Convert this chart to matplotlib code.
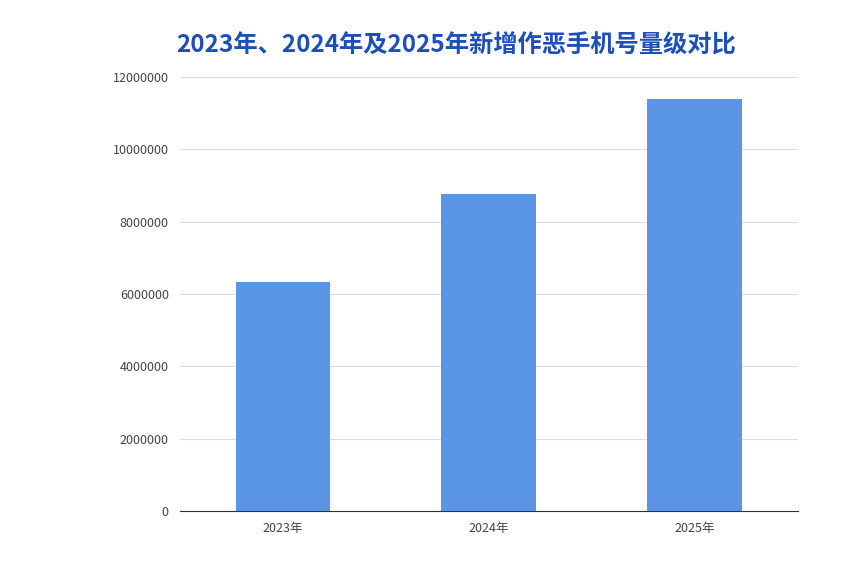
import matplotlib
matplotlib.use("Agg")
import matplotlib.pyplot as plt

plt.rcParams['font.family'] = ['Noto Sans CJK SC', 'DejaVu Sans']

categories = ["2023年", "2024年", "2025年"]
values = [6330000, 8760000, 11390000]
yticks = [0, 2000000, 4000000, 6000000, 8000000, 10000000, 12000000]
title = "2023年、2024年及2025年新增作恶手机号量级对比"

fig = plt.figure(figsize=(8.45, 5.75), dpi=100)
ax = fig.add_axes([0.213, 0.111, 0.731, 0.755])
ax.bar(range(len(categories)), values, width=0.46, color="#5b95e5", zorder=3)
ax.set_xlim(-0.5, 2.5)
ax.set_ylim(0, 12000000)
ax.set_yticks(yticks)
ax.set_yticklabels([str(v) for v in yticks], fontsize=9, color="#444444")
ax.set_xticks(range(len(categories)))
ax.set_xticklabels(categories, fontsize=9, color="#444444")
ax.grid(axis="y", color="#dddddd", linewidth=0.8, zorder=0)
for s in ["top", "right", "left"]:
    ax.spines[s].set_visible(False)
ax.spines["bottom"].set_color("#333333")
ax.tick_params(length=0, pad=8)
fig.text(0.540, 0.921, title, ha="center", va="center", fontsize=17.5,
         fontweight="bold", color="#1d4fb8")
fig.savefig("out.png", dpi=100, facecolor="white")
